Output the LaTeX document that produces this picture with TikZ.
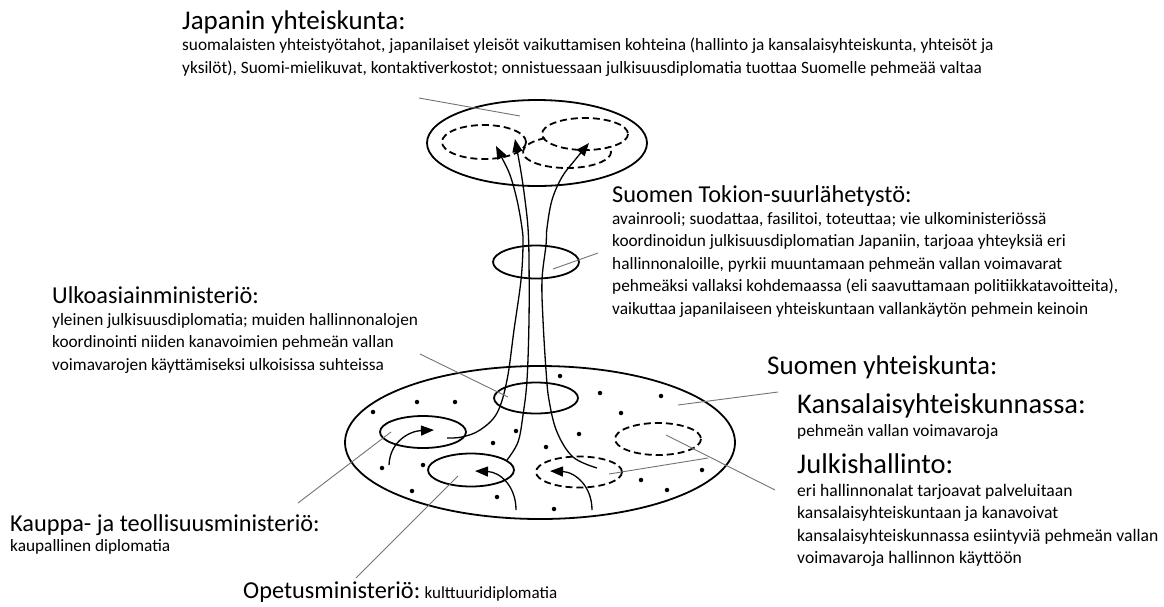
\documentclass[tikz,border=0pt]{standalone}
\usepackage{fontspec}
\setmainfont{Carlito}
\usetikzlibrary{arrows.meta}
\begin{document}
\begin{tikzpicture}[x=1pt,y=-1pt,
  shp/.style={line width=1.8pt},
  dsh/.style={line width=1.8pt, dash pattern=on 7pt off 4pt},
  leader/.style={draw=black!55, line width=0.9pt},
  flow/.style={line width=1.3pt, -{Triangle[length=13pt,width=10pt]}},
  dotn/.style={circle, fill=black, inner sep=0pt, minimum size=4.5pt},
  headbig/.style={anchor=base west, inner sep=0pt, font=\fontsize{27}{30}\selectfont},
  headxl/.style={anchor=base west, inner sep=0pt, font=\fontsize{28.5}{32}\selectfont},
  head/.style={anchor=base west, inner sep=0pt, font=\fontsize{24.3}{28}\selectfont},
  body/.style={anchor=north west, inner sep=0pt, align=left, font=\fontsize{17.3}{22.5}\selectfont}
]
\useasboundingbox (0,0) rectangle (1164,606);

% ---------- top ellipse (Japan) ----------
\draw[shp] (537,143) ellipse[x radius=110, y radius=43];
\draw[dsh] (484,142) ellipse[x radius=42, y radius=17];
\draw[dsh] (585,134) ellipse[x radius=43, y radius=16];
\draw[dsh] (567,152) ++(240:44 and 16) arc[start angle=240, end angle=-20, x radius=44, y radius=16];

% ---------- embassy ring ----------
\draw[shp] (536,262) ellipse[x radius=43, y radius=16.5];

% ---------- bottom ellipse (Finland) ----------
\draw[shp] (540,442.5) ellipse[x radius=195, y radius=76.5];
\draw[shp] (536,398) ellipse[x radius=42, y radius=15.5];
\draw[shp] (423,432) ellipse[x radius=43, y radius=16];
\draw[shp] (471,470) ellipse[x radius=43, y radius=16.5];
\draw[dsh] (579,472) ellipse[x radius=43, y radius=15.5];
\draw[dsh] (658,439) ellipse[x radius=43, y radius=16];

% dots
\foreach \p in {(373,412),(417,402),(455,402),(516,431),(493,443),(382,468),(423,465),
  (412,491),(497,497),(546,447),(579,434),(600,393),(661,396),(621,413),(554,509),
  (641,480),(667,490),(702,470),(560,376)}
  \node[dotn] at \p {};

% ---------- flows ----------
\draw[flow] plot[smooth, tension=0.6] coordinates {(447,438) (462,437) (480,430) (497,413) (507,380) (514,330) (521,280) (523,245) (522,228) (517,200) (510,175) (502,158) (496,146)};
\draw[flow] plot[smooth, tension=0.6] coordinates {(507,460) (518,442) (523,415) (527,380) (529,320) (529,260) (528,228) (525,200) (521,172) (515,139)};
\draw[flow] plot[smooth, tension=0.6] coordinates {(597,468) (573,457) (557,432) (549,400) (546,370) (543,320) (542,280) (546,245) (547,228) (552,200) (562,177) (575,160) (589,143)};

\draw[flow] (389,465) .. controls (390,441) and (410,431) .. (434,430);
\draw[flow] (516,510) .. controls (516,486) and (500,472) .. (475,471);
\draw[flow] (592,510) .. controls (592,486) and (575,472) .. (550,471);

% ---------- leader lines ----------
\coordinate (lJa) at (419,98);   \coordinate (lJb) at (520,116);
\coordinate (lTa) at (553,269);  \coordinate (lTb) at (598,253);
\coordinate (lUa) at (420,354);  \coordinate (lUb) at (508,397);
\coordinate (lKa) at (298,503);  \coordinate (lKb) at (391,432);
\coordinate (lOa) at (458,476);  \coordinate (lOb) at (356,578);
\coordinate (lSa) at (678,405);  \coordinate (lSb) at (778,392);
\coordinate (lHa) at (609,474);  \coordinate (lHb) at (708,458);
\coordinate (lHc) at (666,435);  \coordinate (lHd) at (775,490);
\draw[leader] (lJa) -- (lJb);
\draw[leader] (lTa) -- (lTb);
\draw[leader] (lUa) -- (lUb);
\draw[leader] (lKa) -- (lKb);
\draw[leader] (lOa) -- (lOb);
\draw[leader] (lSa) -- (lSb);
\draw[leader] (lHa) -- (lHb);
\draw[leader] (lHc) -- (lHd);

% ---------- texts ----------
\node[headbig] (tJ) at (182,29) {Japanin yhteiskunta:};
\node[body] (bJ) at (182,38) {suomalaisten yhteistyötahot, japanilaiset yleisöt vaikuttamisen kohteina (hallinto ja kansalaisyhteiskunta, yhteisöt ja\\
yksilöt), Suomi-mielikuvat, kontaktiverkostot; onnistuessaan julkisuusdiplomatia tuottaa Suomelle pehmeää valtaa};

\node[head] (tT) at (612,202) {Suomen Tokion-suurlähetystö:};
\node[body] (bT) at (612,212) {avainrooli; suodattaa, fasilitoi, toteuttaa; vie ulkoministeriössä\\
koordinoidun julkisuusdiplomatian Japaniin, tarjoaa yhteyksiä eri\\
hallinnonaloille, pyrkii muuntamaan pehmeän vallan voimavarat\\
pehmeäksi vallaksi kohdemaassa (eli saavuttamaan politiikkatavoitteita),\\
vaikuttaa japanilaiseen yhteiskuntaan vallankäytön pehmein keinoin};

\node[head] (tU) at (52,303) {Ulkoasiainministeriö:};
\node[body] (bU) at (52,313) {yleinen julkisuusdiplomatia; muiden hallinnonalojen\\
koordinointi niiden kanavoimien pehmeän vallan\\
voimavarojen käyttämiseksi ulkoisissa suhteissa};

\node[headbig] (tS) at (767,374) {Suomen yhteiskunta:};
\node[headxl] (tK) at (797,413) {Kansalaisyhteiskunnassa:};
\node[body] (bK) at (797,424) {pehmeän vallan voimavaroja};
\node[headxl] (tH) at (797,473) {Julkishallinto:};
\node[body, font=\fontsize{17.6}{22.5}\selectfont] (bH) at (797,484) {eri hallinnonalat tarjoavat palveluitaan\\
kansalaisyhteiskuntaan ja kanavoivat\\
kansalaisyhteiskunnassa esiintyviä pehmeän vallan\\
voimavaroja hallinnon käyttöön};

\node[head] (tKa) at (10,531) {Kauppa- ja teollisuusministeriö:};
\node[body] (bKa) at (10,539) {kaupallinen diplomatia};

\node[head] (tO) at (243,598) {Opetusministeriö:};
\node[anchor=base west, inner sep=0pt, font=\fontsize{17}{20}\selectfont] (bO) at (tO.base east) {\ kulttuuridiplomatia};
\end{tikzpicture}
\end{document}
